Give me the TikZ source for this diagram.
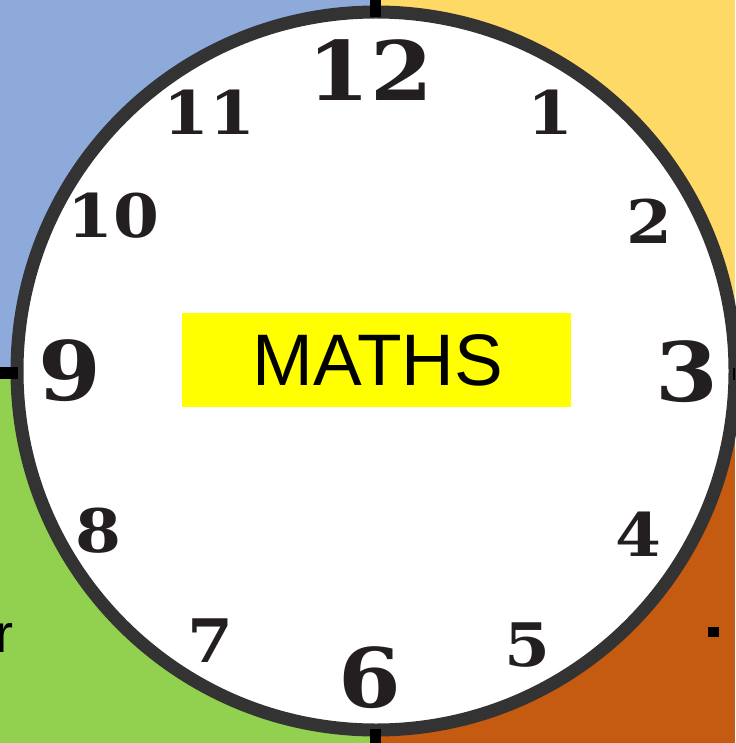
\documentclass[tikz,border=0pt]{standalone}
\usepackage{fontspec}
\setmainfont{Liberation Sans}
\newfontfamily\clockfont{DejaVu Serif}[FakeStretch=1.1]
\definecolor{qblue}{HTML}{8EAADB}
\definecolor{qyellow}{HTML}{FFD966}
\definecolor{qgreen}{HTML}{92D050}
\definecolor{qorange}{HTML}{C55A11}
\definecolor{ring}{HTML}{333333}
\definecolor{numcol}{HTML}{231F20}
\definecolor{labelyellow}{HTML}{FFFF00}
\tikzset{
  bignum/.style={inner sep=0pt, text=numcol, font=\clockfont\bfseries\fontsize{82}{82}\selectfont},
  smallnum/.style={inner sep=0pt, text=numcol, font=\clockfont\bfseries\fontsize{60}{60}\selectfont},
  tickmark/.style={fill=black, draw=none},
}
\begin{document}
\begin{tikzpicture}[x=1pt,y=-1pt]
\useasboundingbox (0,0) rectangle (735,743);
% quadrants
\fill[qblue] (0,0) rectangle (375,373);
\fill[qyellow] (375,0) rectangle (735,373);
\fill[qgreen] (0,373) rectangle (375,743);
\fill[qorange] (375,373) rectangle (735,743);
% clock face
\node[circle, minimum size=718pt, inner sep=0pt, fill=white, draw=ring, line width=13pt] (face) at (376,371) {};
% ticks
\fill[tickmark] (370,0) rectangle (381,17);
\fill[tickmark] (370,729) rectangle (381,743);
\fill[tickmark] (0,367) rectangle (18,379);
\fill[tickmark] (733,368) rectangle (735,380);
\fill[tickmark] (708,627) rectangle (719,637);
% stray letter
\node[anchor=base east, inner sep=0pt, font=\fontsize{54}{54}\selectfont] (r) at (14,652) {r};
% numbers
\node[bignum] (n12) at (370,70) {12};
\node[smallnum] (n1) at (550,112) {1};
\node[smallnum] (n2) at (649,221) {2};
\node[bignum] (n3) at (687,372) {3};
\node[smallnum] (n4) at (638,534) {4};
\node[smallnum] (n5) at (527,645) {5};
\node[bignum] (n6) at (370,678) {6};
\node[smallnum] (n7) at (210,641) {7};
\node[smallnum] (n8) at (98,531) {8};
\node[bignum] (n9) at (70,371) {9};
\node[smallnum] (n10) at (113,216) {10};
\node[smallnum] (n11) at (209,112) {11};
% label
\fill[labelyellow] (182,313) rectangle (571,407);
\node[inner sep=0pt, font=\fontsize{73}{73}\selectfont] (maths) at (378,360) {MATHS};
\end{tikzpicture}
\end{document}
